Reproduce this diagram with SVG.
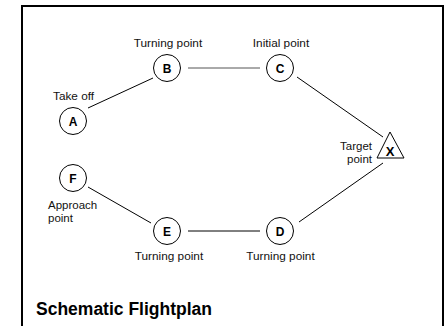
<svg xmlns="http://www.w3.org/2000/svg" width="447" height="326" viewBox="0 0 447 326">
<style>
.node circle, .node polygon { fill: #fff; stroke: #000; stroke-width: 1; }
.lt { font-family: "Liberation Sans", Arial, sans-serif; font-size: 11.8px; fill: #111; }
.lt2 { font-size: 11.5px; }
.nl { font-family: "Liberation Sans", Arial, sans-serif; font-size: 12px; font-weight: bold; fill: #000; text-anchor: middle; }
.mid { text-anchor: middle; }
.end { text-anchor: end; }
#connectors line { stroke: #000; stroke-width: 1; }
</style>
<rect width="447" height="326" fill="#fff"/>
<path d="M22,326 V6 H443 V326" fill="none" stroke="#000" stroke-width="2"/>
<g id="connectors">
  <line x1="88" y1="108" x2="153" y2="78"/>
  <line x1="188" y1="68" x2="260" y2="68" style="stroke:#555"/>
  <line x1="297" y1="77" x2="383" y2="137"/>
  <line x1="383" y1="163" x2="299" y2="222"/>
  <line x1="260" y1="231" x2="188" y2="231"/>
  <line x1="151" y1="223" x2="88" y2="187"/>
</g>
<g id="node-A" class="node">
  <circle cx="73" cy="121" r="13.5"/>
  <text class="nl" x="73" y="125.5">A</text>
  <text class="lt" x="53" y="100">Take off</text>
</g>
<g id="node-B" class="node">
  <circle cx="167" cy="68" r="13.5"/>
  <text class="nl" x="167" y="72.5">B</text>
  <text class="lt mid" x="168" y="47">Turning point</text>
</g>
<g id="node-C" class="node">
  <circle cx="280" cy="68" r="13.5"/>
  <text class="nl" x="280" y="72.5">C</text>
  <text class="lt mid" x="281" y="47">Initial point</text>
</g>
<g id="node-X" class="node">
  <polygon points="390,132 377,158 404,158"/>
  <text class="nl" x="390" y="156" style="font-size:13px">X</text>
  <text class="lt lt2 end" x="372" y="149.5">Target</text>
  <text class="lt lt2 end" x="372" y="162.8">point</text>
</g>
<g id="node-D" class="node">
  <circle cx="280" cy="231" r="13.5"/>
  <text class="nl" x="280" y="235.5">D</text>
  <text class="lt mid" x="280.5" y="260">Turning point</text>
</g>
<g id="node-E" class="node">
  <circle cx="167" cy="231" r="13.5"/>
  <text class="nl" x="167" y="235.5">E</text>
  <text class="lt mid" x="169" y="260">Turning point</text>
</g>
<g id="node-F" class="node">
  <circle cx="73" cy="178" r="13.5"/>
  <text class="nl" x="73" y="182.5">F</text>
  <text class="lt lt2" x="48" y="208.5">Approach</text>
  <text class="lt lt2" x="48" y="221.8">point</text>
</g>
<text x="36" y="315" style="font-family:'Liberation Sans',Arial,sans-serif;font-size:17.5px;font-weight:bold;fill:#000">Schematic Flightplan</text>
</svg>
